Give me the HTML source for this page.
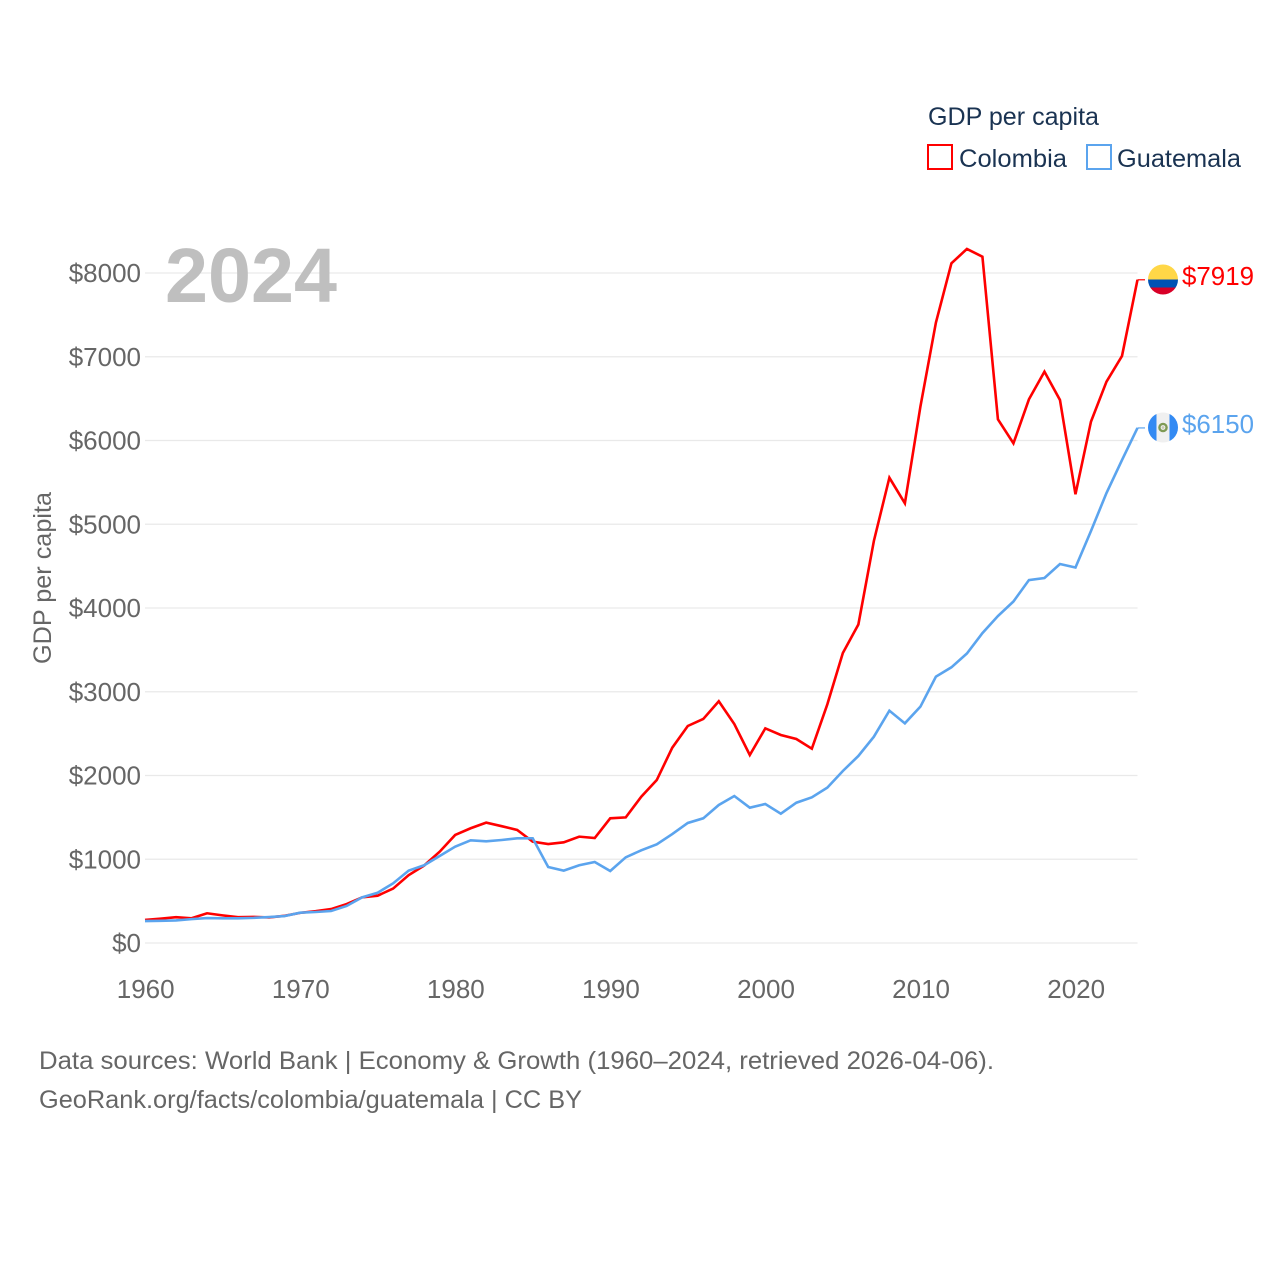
<!DOCTYPE html>
<html lang="en">
<head>
<meta charset="utf-8">
<title>GDP per capita: Colombia and Guatemala</title>
<style>
html,body{margin:0;padding:0;background:#fff;width:1280px;height:1280px;overflow:hidden}
svg{display:block}
text{font-family:"Liberation Sans",sans-serif}
</style>
</head>
<body>
<svg id="chart" xmlns="http://www.w3.org/2000/svg" width="1280" height="1280" viewBox="0 0 1280 1280">
  <rect width="1280" height="1280" fill="#fff"/>
  <g id="grid"></g>
  <g id="yticks"></g>
  <g id="xticks"></g>
  <text x="165" y="302" font-size="77" font-weight="700" fill="#bfbfbf" textLength="172" lengthAdjust="spacingAndGlyphs">2024</text>
  <text transform="translate(51,578) rotate(-90)" text-anchor="middle" font-size="25" fill="#666" textLength="172" lengthAdjust="spacingAndGlyphs">GDP per capita</text>
  <g id="series"></g>

  <g>
    <text x="928" y="125" font-size="25" fill="#1a3352" textLength="171" lengthAdjust="spacingAndGlyphs">GDP per capita</text>
    <rect x="928" y="145" width="24" height="24" fill="none" stroke="#ff0000" stroke-width="2"/>
    <text x="959" y="167" font-size="25" fill="#1a3352" textLength="108" lengthAdjust="spacingAndGlyphs">Colombia</text>
    <rect x="1087" y="145" width="24" height="24" fill="none" stroke="#5ba4ee" stroke-width="2"/>
    <text x="1117" y="167" font-size="25" fill="#1a3352" textLength="124" lengthAdjust="spacingAndGlyphs">Guatemala</text>
  </g>

  <defs>
    <clipPath id="flag-clip-co"><circle cx="1163" cy="279.5" r="15"/></clipPath>
    <clipPath id="flag-clip-gt"><circle cx="1163" cy="427.5" r="15"/></clipPath>
  </defs>
  <g clip-path="url(#flag-clip-co)">
    <rect x="1147" y="264" width="32" height="15.5" fill="#ffd747"/>
    <rect x="1147" y="279.5" width="32" height="8" fill="#0052b4"/>
    <rect x="1147" y="287.5" width="32" height="8" fill="#d80027"/>
  </g>
  <g clip-path="url(#flag-clip-gt)">
    <rect x="1147" y="412" width="32" height="31" fill="#f0f0f0"/>
    <rect x="1147" y="412" width="9.5" height="31" fill="#338af3"/>
    <rect x="1169.5" y="412" width="9.5" height="31" fill="#338af3"/>
    <circle cx="1163" cy="427.5" r="3.6" fill="none" stroke="#7f9a55" stroke-width="2.4"/>
    <circle cx="1163" cy="427.5" r="1.4" fill="#c9c9b0"/>
  </g>
  <text x="1182" y="285" font-size="26" fill="#ff0000" textLength="72" lengthAdjust="spacingAndGlyphs">$7919</text>
  <text x="1182" y="433" font-size="26" fill="#5ba4ee" textLength="72" lengthAdjust="spacingAndGlyphs">$6150</text>

  <g>
    <text x="39" y="1069" font-size="25" fill="#666" textLength="955" lengthAdjust="spacingAndGlyphs">Data sources: World Bank | Economy &amp; Growth (1960–2024, retrieved 2026-04-06).</text>
    <text x="39" y="1108" font-size="25" fill="#666" textLength="543" lengthAdjust="spacingAndGlyphs">GeoRank.org/facts/colombia/guatemala | CC BY</text>
  </g>
</svg>
<script>
const startYear = 1960;
const xTickYears = [1960, 1970, 1980, 1990, 2000, 2010, 2020];
const yTickValues = [0, 1000, 2000, 3000, 4000, 5000, 6000, 7000, 8000];
const colombiaValues = [275, 290, 308, 295, 355, 330, 308, 312, 305, 325, 360, 380, 405, 465, 545, 565, 650, 810, 925, 1090, 1290, 1370, 1437, 1395, 1350, 1210, 1182, 1202, 1270, 1253, 1489, 1500, 1747, 1946, 2332, 2591, 2675, 2886, 2615, 2245, 2563, 2484, 2436, 2320, 2850, 3463, 3803, 4800, 5556, 5250, 6404, 7407, 8116, 8287, 8195, 6253, 5966, 6492, 6822, 6484, 5358, 6225, 6702, 7009, 7919];
const guatemalaValues = [262, 265, 270, 285, 298, 295, 295, 300, 310, 322, 362, 370, 382, 442, 545, 600, 712, 864, 928, 1039, 1150, 1226, 1214, 1230, 1250, 1250, 907, 864, 928, 967, 860, 1023, 1107, 1178, 1301, 1433, 1489, 1648, 1755, 1616, 1660, 1544, 1675, 1739, 1855, 2054, 2233, 2463, 2774, 2623, 2822, 3180, 3292, 3457, 3700, 3904, 4078, 4334, 4358, 4525, 4484, 4920, 5373, 5767, 6150];

const NS = 'http://www.w3.org/2000/svg';
const xScale = function (year) { return 145 + (year - 1960) * (1137.5 - 145) / 64; };
const yScale = function (value) { return 943 - value * (943 - 273) / 8000; };

const gridGroup = document.getElementById('grid');
const yTickGroup = document.getElementById('yticks');
yTickValues.forEach(function (v) {
  const line = document.createElementNS(NS, 'line');
  
  
  line.setAttribute('x1', xScale(1960));
  line.setAttribute('x2', xScale(2024));
  line.setAttribute('y1', yScale(v));
  line.setAttribute('y2', yScale(v));
  line.setAttribute('stroke', '#e9e9e9');
  line.setAttribute('stroke-width', '1.3');
  gridGroup.appendChild(line);
  const label = document.createElementNS(NS, 'text');
  
  
  label.setAttribute('x', 141);
  label.setAttribute('y', yScale(v) + 9);
  label.setAttribute('text-anchor', 'end');
  label.setAttribute('font-size', '26');
  label.setAttribute('fill', '#666');
  label.textContent = '$' + v;
  yTickGroup.appendChild(label);
});

const xTickGroup = document.getElementById('xticks');
xTickYears.forEach(function (y) {
  const label = document.createElementNS(NS, 'text');
  
  
  label.setAttribute('x', xScale(y) + 0.7);
  label.setAttribute('y', 998);
  label.setAttribute('text-anchor', 'middle');
  label.setAttribute('font-size', '26');
  label.setAttribute('fill', '#666');
  label.textContent = y;
  xTickGroup.appendChild(label);
});

const seriesGroup = document.getElementById('series');
function drawSeries(values, color, name) {
  const pts = values.map(function (v, i) {
    return xScale(startYear + i).toFixed(2) + ',' + yScale(v).toFixed(2);
  });
  const line = document.createElementNS(NS, 'polyline');
  
  
  line.setAttribute('points', pts.join(' '));
  line.setAttribute('fill', 'none');
  line.setAttribute('stroke', color);
  line.setAttribute('stroke-width', '2.6');
  line.setAttribute('stroke-linejoin', 'miter');
  seriesGroup.appendChild(line);
  const last = values[values.length - 1];
  const connector = document.createElementNS(NS, 'line');
  
  
  connector.setAttribute('x1', xScale(startYear + values.length - 1));
  connector.setAttribute('x2', xScale(startYear + values.length - 1) + 7.5);
  connector.setAttribute('y1', yScale(last));
  connector.setAttribute('y2', yScale(last));
  connector.setAttribute('stroke', color);
  connector.setAttribute('stroke-width', '1.2');
  seriesGroup.appendChild(connector);
}
drawSeries(colombiaValues, '#ff0000', 'line-colombia');
drawSeries(guatemalaValues, '#5ba4ee', 'line-guatemala');
</script>
</body>
</html>
